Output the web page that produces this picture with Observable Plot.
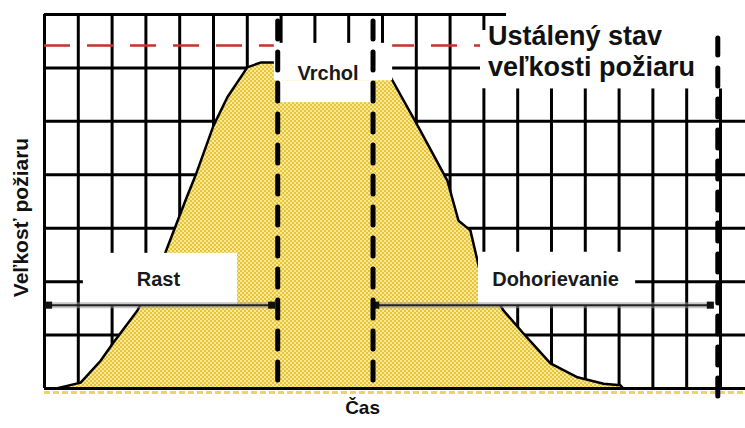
<!DOCTYPE html>
<html>
<head>
<meta charset="utf-8">
<script src="https://cdn.jsdelivr.net/npm/d3@7"></script>
<script src="https://cdn.jsdelivr.net/npm/@observablehq/plot@0.6"></script>
<style>
  html, body { margin: 0; padding: 0; background: white; }
</style>
</head>
<body>
<div id="chart"></div>
<script>
// ---- data ----
const xGrid = [0,1,2,3,4,5,6,7,8,9,10,11,12,13,14,15,16,17,18,19,20];
const yGrid = [0,1,2,3,4,5,6,7];
const fireTime = [0.35, 1.07, 1.66, 2.04, 2.75, 3.58, 4.17, 4.47, 5.0, 5.41, 6.0, 6.39, 6.69, 10.0, 10.3, 11.04, 11.92, 12.25, 12.6, 12.9, 13.58, 14.17, 14.97, 15.77, 16.54, 17.04, 17.13];
const fireSize = [0, 0.11, 0.52, 0.86, 1.46, 2.55, 3.52, 3.99, 4.92, 5.45, 6.01, 6.10, 6.10, 6.10, 5.76, 4.92, 3.89, 3.14, 2.96, 2.15, 1.46, 1.03, 0.47, 0.21, 0.09, 0.06, 0];
const steadyLevel = 6.42;
const phaseBounds = [6.9, 9.72];
const endBound = 19.92;
const phaseNames = ["Rast", "Vrchol", "Dohorievanie"];
const phaseLabelX = [3.37, 8.39, 15.12];
const phaseLabelY = [2.03, 5.9, 2.04];
const arrowStart = [0.12, 9.8];
const arrowEnd = [6.72, 19.7];
const arrowLevel = 1.56;
const boxX1 = [1.15, 6.8, 6.9, 12.84, 13.67, 12.9];
const boxX2 = [5.71, 10.3, 9.7, 17.49, 20.74, 20.74];
const boxY1 = [1.55, 5.76, 5.35, 1.55, 5.61, 5.61];
const boxY2 = [2.53, 6.46, 5.76, 2.55, 7.1, 6.7];
const steadyTitle = ["Ustálený stav", "veľkosti požiaru"];
const steadyTitleY = [6.59, 6.01];
const xTitle = "Čas";
const yTitle = "Veľkosť požiaru";

// ---- tables for the library ----
const fire = fireTime.map((t, i) => ({t, s: fireSize[i]}));
const boxes = boxX1.map((x1, i) => ({x1, x2: boxX2[i], y1: boxY1[i], y2: boxY2[i]}));
const phaseLabels = phaseNames.map((n, i) => ({n, x: phaseLabelX[i], y: phaseLabelY[i]}));
const arrows = arrowStart.map((a, i) => ({a, b: arrowEnd[i]}));
const arrowEnds = arrows.flatMap(d => [{x: d.a}, {x: d.b}]);
const titleLines = steadyTitle.map((s, i) => ({s, y: steadyTitleY[i]}));
const XMAX = 20.74;
const font = "'Liberation Sans', Arial, Helvetica, sans-serif";

const svg = Plot.plot({
  width: 745,
  height: 428,
  marginLeft: 44,
  marginRight: 0,
  marginTop: 14,
  marginBottom: 40,
  x: {domain: [0, XMAX], axis: null},
  y: {domain: [0, 7], axis: null},
  style: {fontFamily: font, background: "white", overflow: "visible"},
  marks: [
    Plot.ruleX(xGrid, {y1: 0, y2: 7, stroke: "black", strokeWidth: 3}),
    Plot.ruleY(yGrid, {x1: 0, x2: XMAX, stroke: "black", strokeWidth: 3}),
    Plot.areaY(fire, {x: "t", y: "s", fill: "url(#fireDots)"}),
    Plot.line(fire, {x: "t", y: "s", stroke: "black", strokeWidth: 2.5}),
    Plot.ruleY([steadyLevel], {x1: 0, x2: 12.9, stroke: "#c8302c", strokeWidth: 2.5, strokeDasharray: "26,17"}),
    Plot.rect(boxes, {x1: "x1", x2: "x2", y1: "y1", y2: "y2", fill: "white"}),
    Plot.ruleY([0], {x1: 0, x2: XMAX, stroke: "#edd464", strokeWidth: 3, strokeDasharray: "6,3", dy: 4}),
    Plot.ruleY([0], {x1: 0, x2: XMAX, stroke: "black", strokeWidth: 3}),
    // phase arrows
    Plot.ruleY(arrows, {x1: "a", x2: "b", y: arrowLevel, stroke: "#9a9a9a", strokeWidth: 6, strokeOpacity: 0.55}),
    Plot.ruleY(arrows, {x1: "a", x2: "b", y: arrowLevel, stroke: "#222", strokeWidth: 2}),
    Plot.dot(arrowEnds, {x: "x", y: arrowLevel, symbol: "square", r: 4, fill: "#111"}),
    // phase boundaries
    Plot.ruleX(phaseBounds, {y1: 0.15, y2: 7, stroke: "black", strokeWidth: 5, strokeDasharray: "18,13", strokeLinecap: "round"}),
    Plot.ruleX([endBound], {y1: -0.15, y2: 6.55, stroke: "black", strokeWidth: 5, strokeDasharray: "18,13", strokeLinecap: "round"}),
    // texts
    Plot.text(phaseLabels, {x: "x", y: "y", text: "n", fontSize: 20, fontWeight: "bold", fill: "#1a1a1a", lineAnchor: "middle", textAnchor: "middle"}),
    Plot.text(titleLines, {x: 13.12, y: "y", text: "s", fontSize: 27, fontWeight: "bold", fill: "#111", textAnchor: "start", lineAnchor: "middle"}),
    Plot.text([xTitle], {x: 9.41, y: -0.37, text: d => d, fontSize: 19, fontWeight: "bold", fill: "#111", lineAnchor: "middle"}),
    Plot.text([yTitle], {x: -0.68, y: 3.2, text: d => d, rotate: -90, fontSize: 21, fontWeight: "bold", fill: "#111", lineAnchor: "middle"})
  ]
});

const defs = document.createElementNS("http://www.w3.org/2000/svg", "defs");
defs.innerHTML = '<pattern id="fireDots" width="4" height="4" patternUnits="userSpaceOnUse">' +
  '<rect width="4" height="4" fill="#e8c432"/>' +
  '<rect width="2" height="2" fill="#f6e89c"/>' +
  '<rect x="2" y="2" width="2" height="2" fill="#f6e89c"/></pattern>';
svg.insertBefore(defs, svg.firstChild);
document.getElementById("chart").appendChild(svg);
</script>
</body>
</html>
